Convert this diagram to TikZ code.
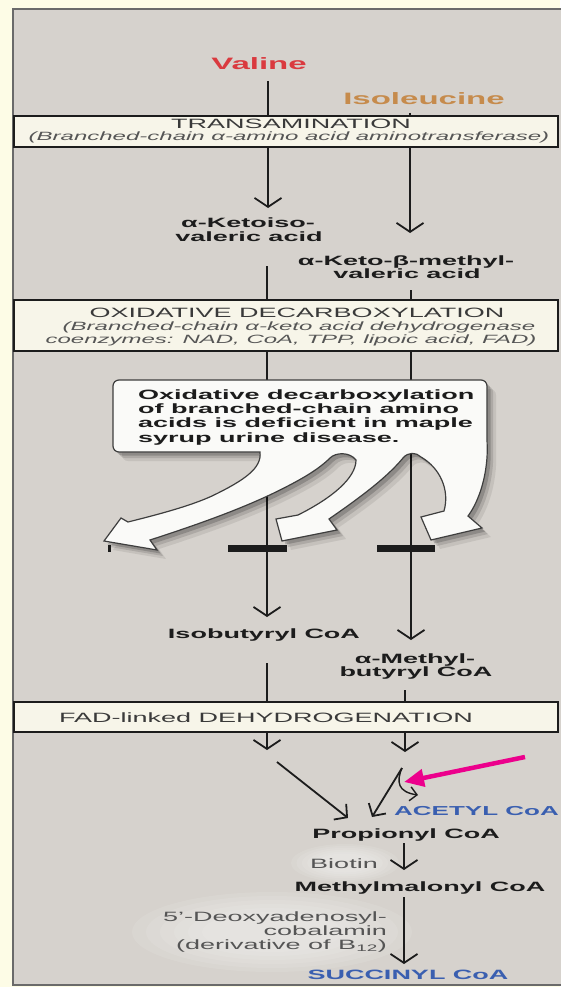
\documentclass[tikz,border=0pt]{standalone}
\usepackage{fontspec}
\setmainfont{Liberation Sans}[FakeStretch=2.0]
\usetikzlibrary{arrows.meta}
\definecolor{bgyellow}{HTML}{FDFCE6}
\definecolor{panelgray}{HTML}{D6D2CD}
\definecolor{paneledge}{HTML}{6A6A6A}
\definecolor{boxfill}{HTML}{F7F5E9}
\definecolor{valred}{HTML}{DA3A3F}
\definecolor{isotan}{HTML}{C68B4C}
\definecolor{coablue}{HTML}{3A5FB0}
\definecolor{ink}{HTML}{1C1C1C}
\definecolor{hdrgray}{HTML}{3A3A3A}
\definecolor{subgray}{HTML}{555555}
\definecolor{calloutfill}{HTML}{FAFAF8}
\def\calloutpath{(260,452) [rounded corners=6pt] -- (113,452) -- (113,380) -- (487,380) -- (487,440) [sharp corners]
 .. controls (488,472) and (480,500) .. (468,516) -- (482,528) -- (431,540) -- (421,517) -- (444,511)
 .. controls (450,490) and (440,468) .. (421,457) .. controls (416,452) and (408,452) .. (403,458)
 .. controls (385,480) and (352,503) .. (329,519) -- (337,530) -- (282,541) -- (276,519) -- (298,515)
 .. controls (332,498) and (356,478) .. (356,460) .. controls (350,452) and (336,452) .. (330,458)
 .. controls (318,470) and (300,480) .. (280,490) .. controls (240,510) and (190,527) .. (150,540)
 -- (157,550) -- (104,541) -- (121,518) -- (128,522) .. controls (160,514) and (190,506) .. (212,496)
 .. controls (245,480) and (262,468) .. cycle}
\begin{document}
\begin{tikzpicture}[x=1pt,y=-1pt,
  pathway/.style={draw=ink, line width=1.8pt},
  vee/.style={pathway, -{Straight Barb[length=9pt,width=27pt]}},
  veed/.style={pathway, -{Straight Barb[length=9pt,width=20pt]}},
  veesmall/.style={pathway, line width=1.4pt, -{Straight Barb[length=7pt,width=14pt]}},
  band/.style={draw=ink, line width=1.4pt, fill=boxfill},
  aminoname/.style={font=\fontsize{16.5}{18}\selectfont\bfseries, inner sep=0pt},
  chem/.style={font=\fontsize{13.5}{14}\selectfont\bfseries, text=ink, inner sep=0pt, align=center},
  hdrtext/.style={font=\fontsize{13.5}{14}\selectfont, text=hdrgray, inner sep=0pt},
  enz/.style={font=\fontsize{12}{13.5}\selectfont\itshape, text=subgray, inner sep=0pt, align=center},
  cof/.style={font=\fontsize{13.5}{13.5}\selectfont, text=subgray, inner sep=0pt},
  blockbar/.style={fill=ink},
  glow/.style={fill=white, opacity=0.09},
  pinkarrow/.style={draw=magenta, line width=4.5pt, -{Triangle[length=20pt,width=17pt]}}
]
\useasboundingbox (0,0) rectangle (560,987);
% background and panel
\fill[bgyellow] (0,0) rectangle (560,987);
\filldraw[fill=panelgray, draw=paneledge, line width=1.2pt] (13,9) rectangle (640,985);

% column coordinates
\coordinate (vA) at (268,81);  \coordinate (vB) at (268,208);
\coordinate (iA) at (410,113); \coordinate (iB) at (410,233);
\coordinate (vC) at (267,266); \coordinate (vD) at (267,617);
\coordinate (iC) at (411,290); \coordinate (iD) at (411,640);
\coordinate (vE) at (267,663); \coordinate (vF) at (267,750);
\coordinate (iE) at (405,690); \coordinate (iF) at (405,752);
\coordinate (dA) at (277,762); \coordinate (dB) at (348,818);
\coordinate (apex) at (402,768); \coordinate (lB) at (372,817);
\coordinate (acB) at (418,795);
\coordinate (pA) at (404,843); \coordinate (pB) at (404,870);
\coordinate (mA) at (404,897); \coordinate (mB) at (404,964);
\coordinate (magA) at (525,757); \coordinate (magB) at (404,782);

% vertical pathway lines
\draw[vee] (vA) -- (vB);
\draw[vee] (iA) -- (iB);
\draw[vee] (vC) -- (vD);
\draw[vee] (iC) -- (iD);
\draw[vee] (vE) -- (vF);
\draw[vee] (iE) -- (iF);

% bands
\draw[band] (14,116) rectangle (558,147);
\node[hdrtext, anchor=base] (trans) at (291,129) {TRANSAMINATION};
\node[enz, anchor=base] (transenz) at (289,141) {(Branched-chain α-amino acid aminotransferase)};

\draw[band] (14,300) rectangle (558,351);
\node[hdrtext, anchor=base] (oxdec) at (297,317) {OXIDATIVE DECARBOXYLATION};
\node[enz, anchor=base] (oxenz1) at (299,330) {(Branched-chain α-keto acid dehydrogenase};
\node[enz, anchor=base] (oxenz2) at (291,343) {coenzymes: NAD, CoA, TPP, lipoic acid, FAD)};

\draw[band] (14,702) rectangle (558,732);
\node[hdrtext, anchor=base west] (fad) at (59,722) {FAD-linked DEHYDROGENATION};

% amino acids
\node[aminoname, text=valred, anchor=base] (valine) at (259,69.5) {Valine};
\node[aminoname, text=isotan, anchor=base] (isoleucine) at (424,105) {Isoleucine};

% keto acids
\node[chem, anchor=base] (ketoiso1) at (248,227.5) {α-Ketoiso-};
\node[chem, anchor=base] (ketoiso2) at (249,241.5) {valeric acid};
\node[chem, anchor=base] (ketometh1) at (406,265) {α-Keto-β-methyl-};
\node[chem, anchor=base] (ketometh2) at (407,278) {valeric acid};

% callout with shadow
\fill[black, opacity=0.08, xshift=9pt, yshift=-9pt] \calloutpath;
\fill[black, opacity=0.12, xshift=6pt, yshift=-6pt] \calloutpath;
\fill[black, opacity=0.18, xshift=3.5pt, yshift=-3.5pt] \calloutpath;
\filldraw[fill=calloutfill, draw=ink!85, line width=1.2pt] \calloutpath;
\node[chem, align=left, anchor=north west, font=\fontsize{13.5}{14.2}\selectfont\bfseries] (msud) at (138,389.5)
  {Oxidative decarboxylation\\of branched-chain amino\\acids is deficient in maple\\syrup urine disease.};

% block bars
\fill[blockbar] (108,545) rectangle (111,552);
\fill[blockbar] (228,545) rectangle (287,552);
\fill[blockbar] (377,545) rectangle (435,552);

% acyl CoAs
\node[chem, anchor=base] (isobut) at (264,638) {Isobutyryl CoA};
\node[chem, anchor=base] (methbut1) at (415,663) {α-Methyl-};
\node[chem, anchor=base] (methbut2) at (416,676) {butyryl CoA};

% lower pathway
\draw[veed] (dA) -- (dB);
\draw[veed] (apex) -- (lB);
\draw[veesmall] (apex) .. controls (396,782) and (398,792) .. (acB);
\draw[pinkarrow] (magA) -- (magB);

\node[chem, text=coablue, anchor=base west, font=\fontsize{13}{14}\selectfont\bfseries] (acetyl) at (394,815) {ACETYL CoA};
\node[chem, anchor=base] (propionyl) at (406,838) {Propionyl CoA};

% glows
\foreach \r in {1.0,0.9,0.8,0.7,0.6,0.5}{
  \fill[glow] (345,863) ellipse ({54*\r} and {19*\r});
  \fill[glow] (272,932) ellipse ({140*\r} and {40*\r});
}

\draw[vee] (pA) -- (pB);
\node[cof, anchor=base] (biotin) at (344,868) {Biotin};
\node[chem, anchor=base] (methylmal) at (420,891) {Methylmalonyl CoA};
\draw[vee] (mA) -- (mB);
\node[cof, align=right, anchor=north east, font=\fontsize{13.5}{13.8}\selectfont] (cobal) at (387,912)
  {5'-Deoxyadenosyl-\\cobalamin\\(derivative of B\textsubscript{12})};
\node[chem, text=coablue, anchor=base] (succinyl) at (408,979) {SUCCINYL CoA};
\end{tikzpicture}
\end{document}
